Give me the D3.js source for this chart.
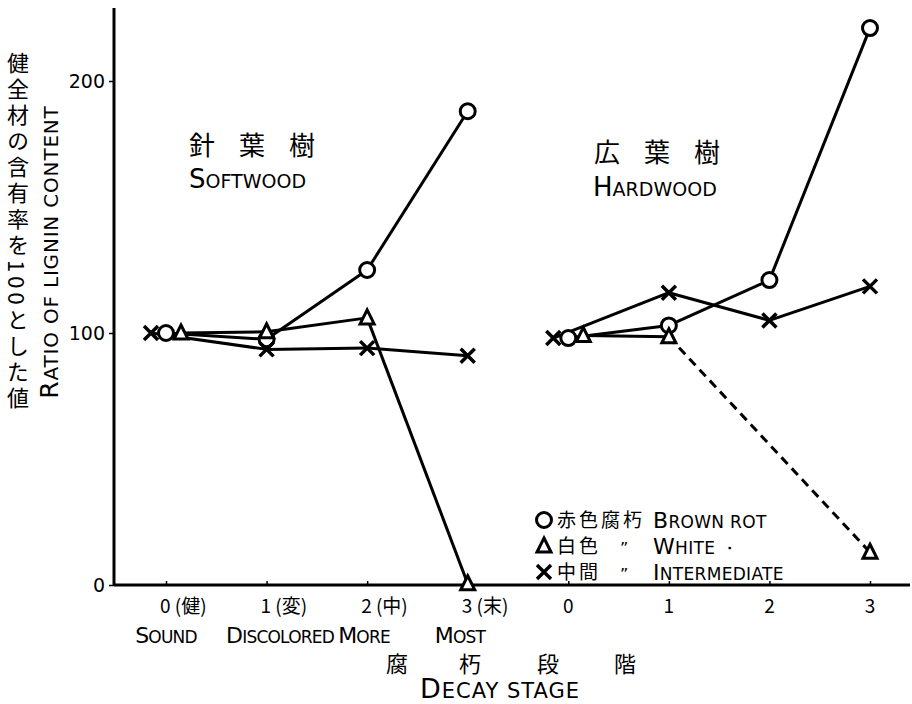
<!DOCTYPE html>
<html><head><meta charset="utf-8">
<script src="https://cdn.jsdelivr.net/npm/d3@7"></script>
<style>
body{margin:0;background:#fff;}
text{font-family:"DejaVu Sans","Liberation Sans",sans-serif;fill:#000;}
.jp{font-family:"Noto Sans CJK JP",sans-serif;}
</style></head>
<body><svg id="c" width="912" height="704"></svg>
<script>
// ---- data ----
const stagePositions = [0,1,2,3,4,5,6,7];
const tickLabels = ["0 (健)","1 (変)","2 (中)","3 (末)","0","1","2","3"];
const stageNames = ["Sound","Discolored","More","Most"];
const yTicks = [0,100,200];
const softBrown = [100, 97.5, 125, 188];
const softWhite = [100, 100.5, 106, 0.5];
const softInter = [100, 93.5, 94, 91];
const hardBrown = [98, 103, 121, 221];
const hardWhite = [99, 98.5, null, 13];
const hardInter = [98, 116, 105, 118.5];
const legendItems = [
  {mark:"circle", jp:"赤色腐朽", ditto:"", en:"Brown rot"},
  {mark:"triangle", jp:"白色", ditto:"\u201D", en:"White  ・"},
  {mark:"cross", jp:"中間", ditto:"\u201D", en:"Intermediate"}
];

const svg = d3.select("#c");
const x = d3.scaleLinear().domain([0,7]).range([166,870]);
const y = d3.scaleLinear().domain([0,200]).range([585,81]);

// small-caps helper: uppercase letters in source are big, lowercase become small capitals
function smallCaps(t, str, big, small){
  for(const ch of str){
    const isBig = ch !== ch.toLowerCase();
    t.append("tspan").attr("font-size", isBig?big:small).text(ch.toUpperCase());
  }
  return t;
}

// axes
svg.append("line").attr("x1",114).attr("x2",114).attr("y1",8).attr("y2",y(0)).attr("stroke","#000").attr("stroke-width",3);
svg.append("line").attr("x1",114).attr("x2",910).attr("y1",y(0)).attr("y2",y(0)).attr("stroke","#000").attr("stroke-width",3);
const yAxis = d3.axisLeft(y).tickValues(yTicks).tickSize(5).tickFormat(d3.format("d"));
const gy = svg.append("g").attr("transform","translate(114,0)").call(yAxis);
gy.select(".domain").remove();
gy.selectAll("line").attr("stroke","#000").attr("stroke-width",1.5);
gy.selectAll("text").attr("font-size",19).attr("font-family","Liberation Sans Narrow, Liberation Sans, sans-serif").attr("dx",-1);
const xAxis = d3.axisTop(x).tickValues(stagePositions).tickSize(4).tickFormat("");
const gx = svg.append("g").attr("transform",`translate(0,${y(0)})`).call(xAxis);
gx.select(".domain").remove();
gx.selectAll("line").attr("stroke","#000").attr("stroke-width",1.5);

// tick labels
svg.selectAll(".tl").data(tickLabels).join("text").attr("class","tl jp")
  .attr("x",(d,i)=> i<4 ? x(i)-6 : x(i)).attr("y",613)
  .attr("text-anchor",(d,i)=> i<4 ? "start" : "middle")
  .attr("font-size",19).text(d=>d);
const nameX = [166, 280, 364, 460];
stageNames.forEach((d,i)=>{
  const t = svg.append("text").attr("x",nameX[i]).attr("y",643).attr("text-anchor","middle")
    .attr("letter-spacing",-0.8);
  smallCaps(t, d, 22, 17);
});

// axis titles
const dsx = [397,470,548,625];
svg.selectAll(".ds").data(["腐","朽","段","階"]).join("text").attr("class","ds jp")
  .attr("x",(d,i)=>dsx[i]).attr("y",672).attr("text-anchor","middle").attr("font-size",22).text(d=>d);
smallCaps(svg.append("text").attr("x",500).attr("y",698).attr("text-anchor","middle").attr("letter-spacing",1),
  "Decay  stage", 27, 21);

svg.append("text").attr("class","jp").attr("x",18).attr("y",52)
  .style("writing-mode","vertical-rl")
  .attr("font-size",22).attr("letter-spacing",4).text("健全材の含有率を100とした値");
smallCaps(svg.append("text").attr("transform","translate(58,252) rotate(-90)").attr("text-anchor","middle").attr("letter-spacing",0.8),
  "Ratio of lignin content", 25, 20);

// group titles
svg.append("text").attr("class","jp").attr("x",189).attr("y",155).attr("font-size",26).attr("letter-spacing",24).text("針葉樹");
smallCaps(svg.append("text").attr("x",189).attr("y",188), "Softwood", 26, 19);
svg.append("text").attr("class","jp").attr("x",594).attr("y",162).attr("font-size",26).attr("letter-spacing",24).text("広葉樹");
smallCaps(svg.append("text").attr("x",593).attr("y",196), "Hardwood", 26, 19);

// series
const offsets = {circle:0, triangle:15, cross:-15};
const series = [
  {vals:softBrown, base:0, mark:"circle"},
  {vals:softWhite, base:0, mark:"triangle"},
  {vals:softInter, base:0, mark:"cross"},
  {vals:hardBrown, base:4, mark:"circle"},
  {vals:hardWhite, base:4, mark:"triangle"},
  {vals:hardInter, base:4, mark:"cross"}
];
function px(s,i){ return x(s.base+i) + (i===0 ? offsets[s.mark] : 0); }
series.forEach(s=>{
  const pts = s.vals.map((v,i)=>({v,i})).filter(d=>d.v!==null);
  for(let k=0;k<pts.length-1;k++){
    const a=pts[k], b=pts[k+1];
    const gap = b.i-a.i>1;
    svg.append("line").attr("x1",px(s,a.i)).attr("y1",y(a.v)).attr("x2",px(s,b.i)).attr("y2",y(b.v))
      .attr("stroke","#000").attr("stroke-width",3).attr("stroke-dasharray",gap?"9,6":null);
  }
});
function drawMark(g,mark,cx,cy){
  if(mark==="circle"){
    g.append("circle").attr("cx",cx).attr("cy",cy).attr("r",7.5).attr("fill","#fff").attr("stroke","#000").attr("stroke-width",3);
  } else if(mark==="triangle"){
    g.append("path").attr("d",`M${cx},${cy-8}L${cx+7},${cy+6}L${cx-7},${cy+6}Z`).attr("fill","#fff").attr("stroke","#000").attr("stroke-width",3);
  } else {
    g.append("path").attr("d",`M${cx-7},${cy-7}L${cx+7},${cy+7}M${cx+7},${cy-7}L${cx-7},${cy+7}`).attr("stroke","#000").attr("stroke-width",3.5);
  }
}
const gm = svg.append("g");
series.forEach(s=>{
  s.vals.forEach((v,i)=>{ if(v!==null) drawMark(gm,s.mark,px(s,i),y(v)); });
});

// legend
const lg = svg.append("g");
legendItems.forEach((d,i)=>{
  const yy = 520 + i*26;
  drawMark(lg,d.mark,544,yy);
  lg.append("text").attr("class","jp").attr("x",557).attr("y",yy+7).attr("font-size",19).attr("letter-spacing",3).text(d.jp);
  if(d.ditto) lg.append("text").attr("x",620).attr("y",yy+8).attr("font-size",16).text(d.ditto);
  smallCaps(lg.append("text").attr("x",653).attr("y",yy+8).attr("letter-spacing",0.3), d.en, 22, 17);
});
</script></body></html>
